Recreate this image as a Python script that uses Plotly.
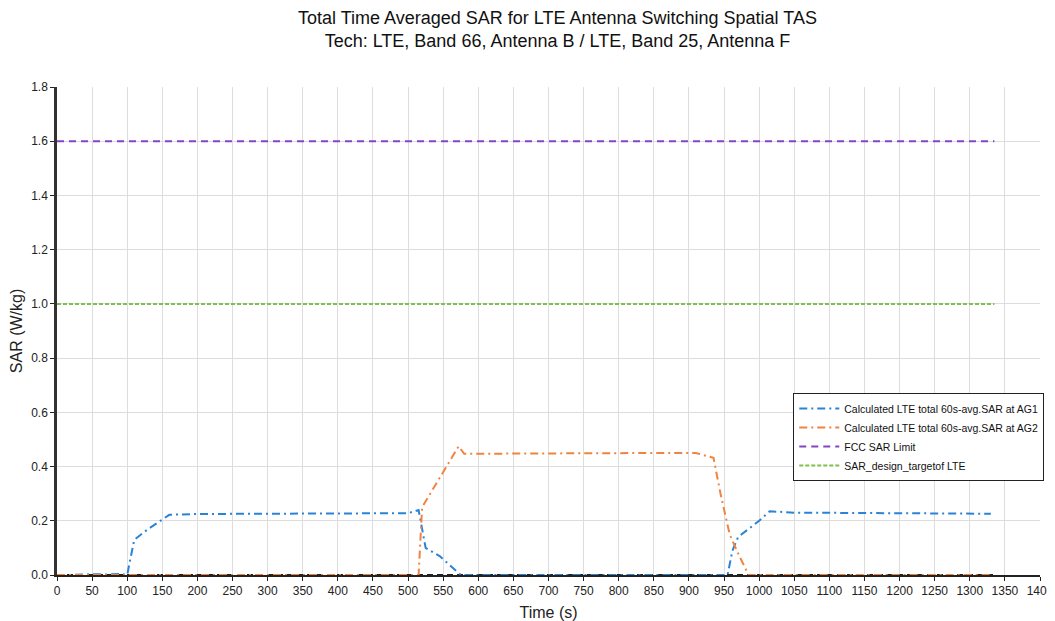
import plotly.graph_objects as go

# Data
ag1_time = [0, 20, 50, 70, 90, 100, 103, 110, 130, 150, 160, 200, 300, 400, 500, 515,
            525, 545, 575, 600, 700, 800, 900, 955, 962, 970, 1000, 1015, 1050, 1100,
            1200, 1300, 1330]
ag1_sar = [0.0, 0.0, 0.003, 0.002, 0.004, 0.0, 0.04, 0.13, 0.17, 0.205, 0.222, 0.225,
           0.226, 0.227, 0.228, 0.24, 0.10, 0.07, 0.0, 0.0, 0.0, 0.0, 0.0, 0.0, 0.09,
           0.14, 0.20, 0.235, 0.230, 0.229, 0.227, 0.226, 0.226]

ag2_time = [0, 515, 520, 545, 572, 580, 650, 750, 850, 910, 935, 945, 958, 970, 985,
            1100, 1200, 1330]
ag2_sar = [0.0, 0.0, 0.25, 0.36, 0.475, 0.447, 0.447, 0.449, 0.45, 0.45, 0.432, 0.30,
           0.15, 0.08, 0.0, 0.0, 0.0, 0.0]

limit_time = [0, 1335]
fcc_limit = [1.6, 1.6]
design_target = [1.0, 1.0]
zero_line = [0.0, 0.0]

x_ticks = list(range(0, 1401, 50))
y_ticks = [0.0, 0.2, 0.4, 0.6, 0.8, 1.0, 1.2, 1.4, 1.6, 1.8]

title_text = ("Total Time Averaged SAR for LTE Antenna Switching Spatial TAS<br>"
              "Tech: LTE, Band 66, Antenna B / LTE, Band 25, Antenna F")

fig = go.Figure()
fig.add_trace(go.Scatter(x=limit_time, y=zero_line, mode="lines", showlegend=False,
                         line=dict(color="#222222", width=2, dash="6px,4px"),
                         hoverinfo="skip"))
fig.add_trace(go.Scatter(x=ag1_time, y=ag1_sar, mode="lines",
                         name="Calculated LTE total 60s-avg.SAR at AG1",
                         line=dict(color="#2a83d6", width=2, dash="8px,4px,2px,4px")))
fig.add_trace(go.Scatter(x=ag2_time, y=ag2_sar, mode="lines",
                         name="Calculated LTE total 60s-avg.SAR at AG2",
                         line=dict(color="#f0843f", width=2, dash="8px,4px,2px,4px")))
fig.add_trace(go.Scatter(x=limit_time, y=fcc_limit, mode="lines",
                         name="FCC SAR Limit",
                         line=dict(color="#8345c4", width=2, dash="7px,5px")))
fig.add_trace(go.Scatter(x=limit_time, y=design_target, mode="lines",
                         name="SAR_design_targetof LTE",
                         line=dict(color="#7fbf4a", width=2, dash="4px,2px")))

fig.add_annotation(text=title_text, xref="paper", yref="paper",
                   x=0.509, y=1.117, xanchor="center", yanchor="middle",
                   showarrow=False, align="center",
                   font=dict(size=18, color="#111111"))

fig.update_layout(
    width=1047, height=613,
    paper_bgcolor="white", plot_bgcolor="white",
    font=dict(family="Liberation Sans, Arial, sans-serif", color="#222222"),
    margin=dict(l=49, r=15, t=79, b=46, autoexpand=False),
    legend=dict(x=0.749, y=0.373, xanchor="left", yanchor="top",
                bgcolor="white", bordercolor="#222222", borderwidth=1,
                font=dict(size=10.5, color="#111111"), tracegroupgap=0,
                itemwidth=40),
    showlegend=True,
)
fig.update_xaxes(range=[0, 1400], tickvals=x_ticks, ticktext=[str(v) for v in x_ticks],
                 showgrid=True, gridcolor="#dddddd", gridwidth=1,
                 showline=True, linecolor="#222222", linewidth=1.5,
                 ticks="outside", ticklen=4, tickcolor="#222222",
                 tickfont=dict(size=12), zeroline=False, automargin=False,
                 ticklabeloverflow="allow",
                 title=dict(text="Time (s)", font=dict(size=16), standoff=10))
fig.update_yaxes(range=[0, 1.8], tickvals=y_ticks, ticktext=[f"{v:.1f}" for v in y_ticks],
                 showgrid=True, gridcolor="#dddddd", gridwidth=1,
                 showline=True, linecolor="#333333", linewidth=2.5,
                 ticks="outside", ticklen=4, tickcolor="#222222",
                 tickfont=dict(size=12), zeroline=False, automargin=False,
                 title=dict(text="SAR (W/kg)", font=dict(size=16), standoff=8))

fig.write_html("out.html")
